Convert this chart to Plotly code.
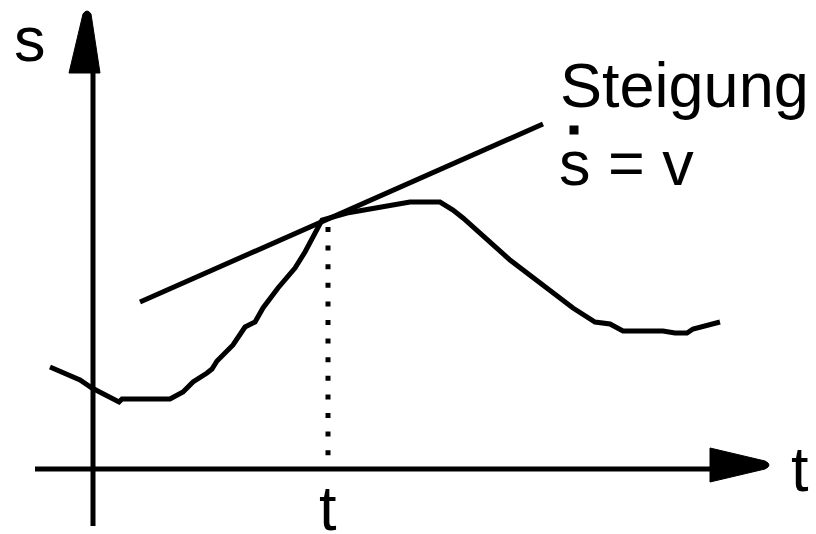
import plotly.graph_objects as go

# Diagram units: origin at the axes crossing (1 unit = 1 px)
curve_t = [-43, -28, -18, -13, -1, 19, 26, 29, 77, 90, 100, 114, 119, 124, 140, 152, 162, 170,
           185, 202, 212, 229, 254, 317, 347, 360, 370, 417, 460, 480, 502, 517, 530, 570,
           582, 594, 600, 610, 627]
curve_s = [102, 95, 91, 89, 81, 71, 67, 70, 70, 77, 87, 96, 100, 108, 124, 142, 147, 161,
           181, 201, 217, 249, 256, 267, 267, 259, 251, 209, 176, 161, 147, 145, 138, 138,
           136, 136, 140, 143, 147]

tangent_t = [47, 450]
tangent_s = [167, 345]

mark_t = [235, 235]
mark_s = [242, 10]

labels = {"s_axis": "s", "t_axis": "t", "t_mark": "t", "slope": "Steigung", "eq": "s = v"}

FONT = dict(family="Arial, Liberation Sans, sans-serif", size=63, color="black")

fig = go.Figure()

fig.add_trace(go.Scatter(x=curve_t, y=curve_s, mode="lines",
                         line=dict(color="black", width=5), hoverinfo="skip"))
fig.add_trace(go.Scatter(x=tangent_t, y=tangent_s, mode="lines",
                         line=dict(color="black", width=5), hoverinfo="skip"))
fig.add_trace(go.Scatter(x=mark_t, y=mark_s, mode="lines",
                         line=dict(color="black", width=5, dash="5px,13.6px"), hoverinfo="skip"))

# axes
fig.add_shape(type="line", x0=-58, y0=0, x1=620, y1=0, line=dict(color="black", width=5))
fig.add_shape(type="line", x0=0, y0=-57, x1=0, y1=400, line=dict(color="black", width=5))
# arrow heads
fig.add_shape(type="path", path="M -24 396 L -10 455 Q -6 461 -2 455 L 7 396 Z",
              fillcolor="black", line=dict(color="black", width=1))
fig.add_shape(type="path", path="M 617 21 L 672 8 Q 680 4 672 0 L 617 -13 Z",
              fillcolor="black", line=dict(color="black", width=1))
# dot above s
fig.add_shape(type="rect", x0=476.5, y0=334.5, x1=485.5, y1=343.5,
              fillcolor="black", line=dict(width=0))

def ann(text, x, y, xanchor="left"):
    fig.add_annotation(text=text, x=x, y=y, xref="x", yref="y", showarrow=False,
                       xanchor=xanchor, yanchor="middle", font=FONT, borderpad=0)

ann(labels["s_axis"], -80, 430)
ann(labels["slope"], 466, 384)
ann(labels["eq"], 465, 306)
ann(labels["t_mark"], 234.5, -39, xanchor="center")
ann(labels["t_axis"], 707, 0, xanchor="center")

fig.update_layout(
    width=816, height=534, autosize=False,
    margin=dict(l=0, r=0, t=0, b=0),
    paper_bgcolor="white", plot_bgcolor="white",
    showlegend=False,
    xaxis=dict(range=[-93, 723], visible=False, fixedrange=True),
    yaxis=dict(range=[-65, 469], visible=False, fixedrange=True),
)

fig.write_html("out.html", config={"displayModeBar": False},
               post_script="document.body.style.margin='0';document.body.style.padding='0';document.body.style.overflow='hidden';")
